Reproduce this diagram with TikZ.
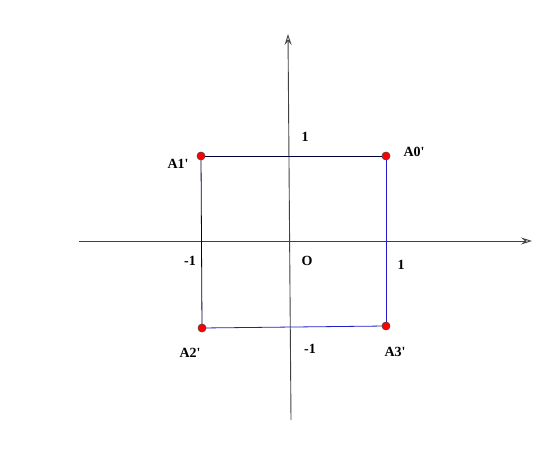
\documentclass[tikz,border=0pt]{standalone}
\usepackage{fontspec}
\setmainfont{Liberation Serif}
\usetikzlibrary{arrows.meta,positioning}
\definecolor{navyline}{RGB}{0,0,55}
\definecolor{blueline}{RGB}{30,30,200}
\newcommand{\prim}{\textquotesingle}
\tikzset{
  axe/.style={-{Stealth[open,length=11pt,width=7pt,inset=4pt]},line width=0.9pt,black!75},
  pt/.style={circle,fill=red,draw=black!70,line width=0.4pt,inner sep=0pt,minimum size=8pt},
  cote/.style={navyline,line width=0.8pt},
  coteb/.style={blueline,line width=0.8pt},
  lbl/.style={font=\fontsize{14}{16}\selectfont\bfseries,inner sep=1pt},
}
\begin{document}
\begin{tikzpicture}[x=1pt,y=-1pt]
  \useasboundingbox (0,0) rectangle (548,462);
  % axes
  \coordinate (xg) at (79,241);
  \coordinate (xd) at (532,241);
  \coordinate (yb) at (291,420);
  \coordinate (yh) at (288,34);
  \draw[axe] (xg) -- (xd);
  \draw[axe] (yb) -- (yh);
  % carre
  \node[pt] (a1) at (201,156) {};
  \node[pt] (a0) at (386,156) {};
  \node[pt] (a2) at (202,328) {};
  \node[pt] (a3) at (386,326) {};
  \draw[cote] (a1) -- (a0);
  \draw[cote] (a1) -- (a2);
  \draw[coteb] (a2) -- (a3);
  \draw[coteb] (a0) -- (a3);
  \node[pt] at (a1) {}; \node[pt] at (a0) {};
  \node[pt] at (a2) {}; \node[pt] at (a3) {};
  % etiquettes
  \node[lbl] (l1) at (178,164) {A1\prim};
  \node[lbl] (l0) at (414,152) {A0\prim};
  \node[lbl] (l2) at (190,353) {A2\prim};
  \node[lbl] (l3) at (395,352) {A3\prim};
  \node[lbl] (o) at (307,261) {O};
  \node[lbl] (xm) at (190,261) {-1};
  \node[lbl] (xp) at (401,265) {1};
  \node[lbl] (yp) at (305,137) {1};
  \node[lbl] (ym) at (310,349) {-1};
\end{tikzpicture}
\end{document}
